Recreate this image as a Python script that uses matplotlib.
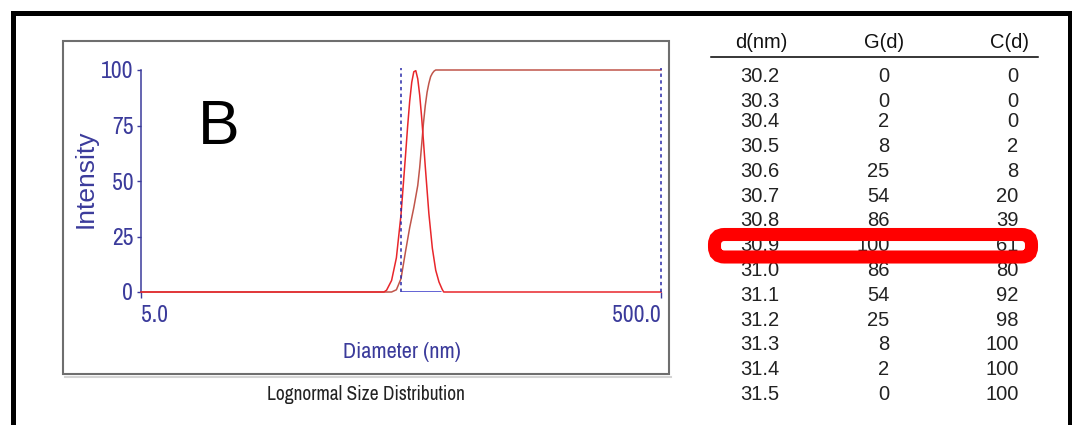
import matplotlib
matplotlib.use("Agg")
import matplotlib.pyplot as plt
from matplotlib import font_manager
from matplotlib.font_manager import FontProperties
from matplotlib.patches import Rectangle, FancyBboxPatch
from matplotlib.lines import Line2D
from matplotlib.ticker import NullLocator
from matplotlib.transforms import IdentityTransform

# Size distribution curve (intensity %, log diameter axis)
dist_diam = [5.0, 43, 44, 46, 48, 50, 52, 53, 54, 55, 56, 57, 58, 59, 60,
             61, 62, 64, 66, 68, 70, 72, 73, 500.0]
dist_intensity = [0, 0, 0.8, 5.2, 15.4, 34.8, 61.0, 74.3, 85.9, 94.5, 99.2, 99.7,
                  96.0, 88.7, 79.0, 68.0, 56.4, 35.3, 19.7, 9.8, 4.5, 1.2, 0, 0]

# Cumulative curve
cum_diam = [5.0, 46, 48, 50, 52, 54, 56, 57, 58, 59, 60, 61, 62, 63, 64, 65,
            66, 67, 68, 70, 500.0]
cum_percent = [0, 0, 1, 6, 18, 29, 38, 43, 48, 56, 66, 76, 84, 90, 94, 97,
               98.5, 99.5, 100, 100, 100]

# Analysis range markers
range_lo = 50.0
range_hi = 500.0
range_fill_end = 71.0

x_ticks = [5.0, 500.0]
x_tick_labels = ["5.0", "500.0"]
y_ticks = [0, 25, 50, 75, 100]

# Tabulated values
table_header = ["d(nm)", "G(d)", "C(d)"]
table_d = ["30.2", "30.3", "30.4", "30.5", "30.6", "30.7", "30.8",
           "30.9", "31.0", "31.1", "31.2", "31.3", "31.4", "31.5"]
table_g = [0, 0, 2, 8, 25, 54, 86, 100, 86, 54, 25, 8, 2, 0]
table_c = [0, 0, 0, 2, 8, 20, 39, 61, 80, 92, 98, 100, 100, 100]
highlight_row = 7

W, H = 1072, 425
NAVY = "#3b3b9b"
RED = "#e8262b"
BROWN = "#c0554a"


def fx(x):
    return x / W


def fy(y):
    return 1 - y / H


def narrow_font():
    fonts = font_manager.fontManager.ttflist
    plain = [f for f in fonts if f.style == "normal" and f.weight in (400, "normal")]
    for f in plain:
        if "Narrow" in f.name or "Narrow" in f.fname:
            return FontProperties(fname=f.fname)
    for f in plain:
        if "Sans" in f.name and ("Condensed" in f.fname or f.stretch in ("condensed", 75)):
            if "Mono" not in f.name:
                return FontProperties(fname=f.fname)
    return FontProperties(family=["Liberation Sans", "DejaVu Sans"])


NARROW = narrow_font()
SANS = ["Liberation Sans", "DejaVu Sans"]


def narrow(size):
    fp = NARROW.copy()
    fp.set_size(size)
    return fp


fig = plt.figure(figsize=(W / 100, H / 100), dpi=100, facecolor="white")

# outer black frame (open at the bottom)
fig.patches.append(Rectangle((fx(12.5), fy(440)), fx(1069.5) - fx(12.5), fy(12.5) - fy(440),
                             transform=fig.transFigure, fill=False, ec="black", lw=3.6))

# grey chart box with a faint shadow
fig.lines.append(Line2D([fx(65), fx(671)], [fy(376.5), fy(376.5)], transform=fig.transFigure,
                        color="#d4d4d4", lw=1.5))
fig.patches.append(Rectangle((fx(63), fy(374)), fx(669) - fx(63), fy(41) - fy(374),
                             transform=fig.transFigure, fill=False, ec="#6e6e6e", lw=1.5))

ax = fig.add_axes([fx(141), fy(292), fx(661) - fx(141), fy(70) - fy(292)])
ax.patch.set_visible(False)
ax.set_xscale("log")
ax.set_xlim(5, 500)
ax.set_ylim(0, 100)
for side in ["top", "right", "bottom"]:
    ax.spines[side].set_visible(False)
ax.spines["left"].set_color(NAVY)
ax.spines["left"].set_linewidth(1.1)

ax.plot(cum_diam, cum_percent, color=BROWN, lw=1.1, zorder=2, clip_on=False)
ax.plot(dist_diam, dist_intensity, color=RED, lw=1.1, zorder=3, clip_on=False)
ax.plot([range_lo, range_fill_end], [0, 0], color="#3434c8", lw=1.8, zorder=4,
        solid_capstyle="butt")
for xv in [range_lo, range_hi]:
    ax.plot([xv, xv], [0, 101], color="#2a2aa8", lw=1.1, ls=(0, (2.2, 2.2)),
            zorder=5, clip_on=False)

ax.set_xticks(x_ticks)
ax.set_xticklabels(x_tick_labels)
ax.xaxis.set_minor_locator(NullLocator())
ax.set_yticks(y_ticks)
ax.tick_params(axis="x", length=4.5, width=1, color=NAVY, labelcolor=NAVY, pad=5)
ax.tick_params(axis="y", length=3, width=1, color=NAVY, labelcolor=NAVY, pad=2.5)
for lab in ax.get_xticklabels() + ax.get_yticklabels():
    lab.set_fontproperties(narrow(17))
xl = ax.get_xticklabels()
xl[0].set_ha("left")
xl[-1].set_ha("right")

fig.text(fx(86), fy(179), "Intensity", rotation=90, ha="center", va="center",
         color=NAVY, fontsize=19, family=SANS)
fig.text(fx(402), fy(352), "Diameter (nm)", ha="center", va="center",
         color=NAVY, fontproperties=narrow(16))
fig.text(fx(366), fy(395), "Lognormal Size Distribution", ha="center", va="center",
         color="#222222", fontproperties=narrow(14))
fig.text(fx(219), fy(128), "B", ha="center", va="center", color="black",
         fontsize=45, family=SANS)

# table of values
hdr_y = fy(43)
fig.text(fx(761), hdr_y, table_header[0], ha="center", va="center", fontsize=14.5,
         family=SANS, color="#111111")
fig.text(fx(884), hdr_y, table_header[1], ha="center", va="center", fontsize=14.5,
         family=SANS, color="#111111")
fig.text(fx(1029), hdr_y, table_header[2], ha="right", va="center", fontsize=14.5,
         family=SANS, color="#111111")
fig.lines.append(Line2D([fx(710.5), fx(1038)], [fy(57.3), fy(57.3)],
                        transform=fig.transFigure, color="black", lw=1.1))

for i, (d, g, c) in enumerate(zip(table_d, table_g, table_c)):
    y = 72.1 + 24.8 * i
    if i < 2:
        y += 4.7
    fig.text(fx(760), fy(y), d, ha="center", va="center", fontsize=14.5,
             family=SANS, color="#222222")
    fig.text(fx(889.5), fy(y), str(g), ha="right", va="center", fontsize=14.5,
             family=SANS, color="#222222")
    fig.text(fx(1018.5), fy(y), str(c), ha="right", va="center", fontsize=14.5,
             family=SANS, color="#222222")

# red outline around the peak row
hy = 72.1 + 24.8 * highlight_row
fig.patches.append(FancyBboxPatch((714.5, H - (hy + 11.3)), 317, 22.5,
                                  boxstyle="round,pad=0,rounding_size=10",
                                  transform=IdentityTransform(), fill=False,
                                  ec="#ff0000", lw=9.4, zorder=10))

fig.savefig("out.png", dpi=100, facecolor="white")
